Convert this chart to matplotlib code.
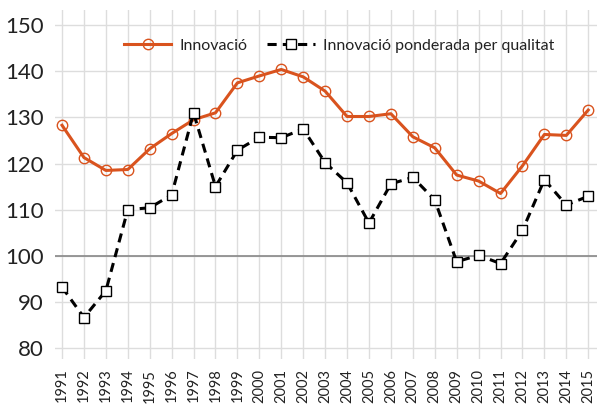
import matplotlib
matplotlib.use("Agg")
import matplotlib.pyplot as plt

years = list(range(1991, 2016))
innovacio = [128.3, 121.3, 118.5, 118.7, 123.2, 126.5, 129.5, 131.0, 137.5, 139.0,
             140.4, 138.8, 135.7, 130.2, 130.2, 130.8, 125.8, 123.4, 117.5, 116.2,
             113.5, 119.5, 126.3, 126.1, 131.6]
ponderada = [93.2, 86.6, 92.4, 110.0, 110.4, 113.2, 131.0, 115.0, 122.9, 125.7,
             125.6, 127.5, 120.2, 115.8, 107.1, 115.6, 117.0, 112.1, 98.7, 100.1,
             98.3, 105.5, 116.5, 111.0, 112.9]
yticks = [80, 90, 100, 110, 120, 130, 140, 150]

plt.rcParams['font.family'] = ['Lato', 'DejaVu Sans']
fig = plt.figure(figsize=(5.97, 4.05), dpi=100)
ax = fig.add_axes([55/597, 46/405, 542/597, 349/405])

txt = '#222222'
orange = '#D9531E'
ax.plot(years, innovacio, color=orange, lw=2.2, marker='o', ms=7.5, mfc='none',
        mec=orange, mew=1.0, label='Innovació', zorder=3)
ax.plot(years, ponderada, color='black', lw=2.2, ls=(0, (3, 2)), marker='s', ms=6.5,
        mfc='white', mec='black', mew=1.0, label='Innovació ponderada per qualitat', zorder=3)

ax.set_xlim(1990.68, 2015.4)
ax.set_ylim(77.6, 153.3)
ax.set_yticks(yticks)
ax.set_xticks(years)
ax.set_xticklabels([str(y) for y in years], rotation=90, fontsize=10.5, color=txt)
ax.set_yticklabels([str(v) for v in yticks], fontsize=16, color=txt)
ax.grid(True, color='#dddddd', lw=1)
ax.axhline(100, color='#888888', lw=1.2, zorder=2)
for s in ax.spines.values():
    s.set_visible(False)
ax.tick_params(axis='y', length=0, pad=8)
ax.tick_params(axis='x', length=0, pad=7)
ax.set_axisbelow(True)

leg = ax.legend(loc='upper left', bbox_to_anchor=(0.1, 0.96), ncol=2, frameon=False,
                fontsize=11.5, handlelength=3.0, columnspacing=1.2, handletextpad=0.5)
for t in leg.get_texts():
    t.set_color(txt)

fig.savefig('out.png', dpi=100)
